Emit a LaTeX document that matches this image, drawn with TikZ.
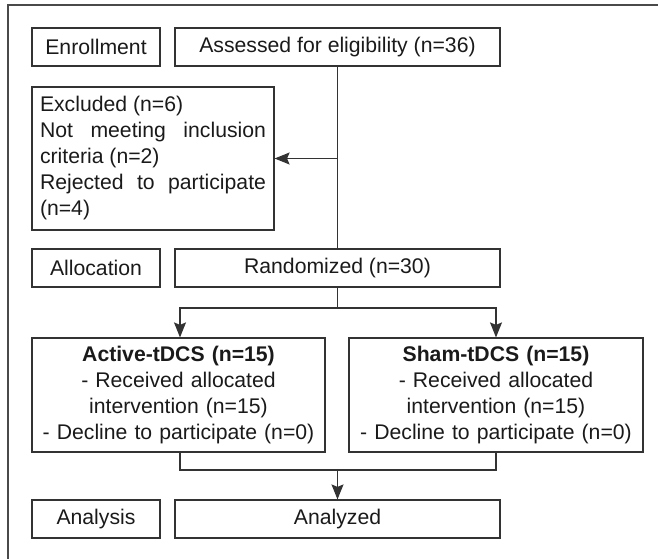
\documentclass[tikz,border=0pt]{standalone}
\usepackage{fontspec}
\setmainfont{Liberation Sans}
\usetikzlibrary{arrows.meta}
\definecolor{linec}{HTML}{333333}
\definecolor{textc}{HTML}{1A1A1A}
\definecolor{framec}{HTML}{4A4A4A}
\begin{document}
\begin{tikzpicture}[x=1pt,y=-1pt,
  box/.style={draw=linec, line width=1.2pt, minimum height=38pt, inner sep=0pt, text=textc,
    font=\fontsize{21.2}{26}\selectfont},
  conn/.style={draw=linec, line width=1.2pt},
  arr/.style={conn, -{Stealth[length=15pt,width=12pt,inset=2.5pt]}}]
\useasboundingbox (0,0) rectangle (658,559);
\draw[framec, line width=1.6pt] (8,562) -- (8,5) -- (662,5);

\node[box, minimum width=128pt] (enr) at (96,47) {Enrollment};
\node[box, minimum width=325pt] (ass) at (337.5,47) {Assessed for eligibility (n=36)};
\node[box, minimum height=143pt, text width=226pt, inner xsep=8pt, align=justify,
  execute at begin node={\parindent=0pt\hyphenpenalty=10000\exhyphenpenalty=10000\tolerance=10000}]
  (exc) at (153,158.5) {Excluded (n=6)\par Not meeting inclusion criteria (n=2)\par Rejected to participate (n=4)};
\node[box, minimum width=128pt] (alc) at (96,268) {Allocation};
\node[box, minimum width=325pt] (rand) at (337.5,268) {Randomized (n=30)};
\node[box, minimum height=114pt, text width=285pt, inner xsep=4pt, align=center] (act) at (178.5,395)
  {\textbf{Active-tDCS (n=15)}\\- Received allocated\\intervention (n=15)\\- Decline to participate (n=0)};
\node[box, minimum height=114pt, text width=286pt, inner xsep=4pt, align=center] (sham) at (496,395)
  {\textbf{Sham-tDCS (n=15)}\\- Received allocated\\intervention (n=15)\\- Decline to participate (n=0)};
\node[box, minimum width=128pt] (anl) at (96,519) {Analysis};
\node[box, minimum width=325pt] (anz) at (337.5,519) {Analyzed};

\coordinate (j1) at (ass.south |- exc.east);
\coordinate (j2) at (337.5,308);
\coordinate (j3) at (337.5,470);
\draw[conn] (ass.south) -- (rand.north);
\draw[arr] (j1) -- (exc.east);
\draw[conn] (rand.south) -- (j2);
\draw[arr] (j2) -| ([xshift=1.5pt]act.north);
\draw[arr] (j2) -| (sham.north);
\draw[conn] ([xshift=1.5pt]act.south) |- (j3);
\draw[conn] (sham.south) |- (j3);
\draw[arr] (j3) -- (anz.north);
\end{tikzpicture}
\end{document}
